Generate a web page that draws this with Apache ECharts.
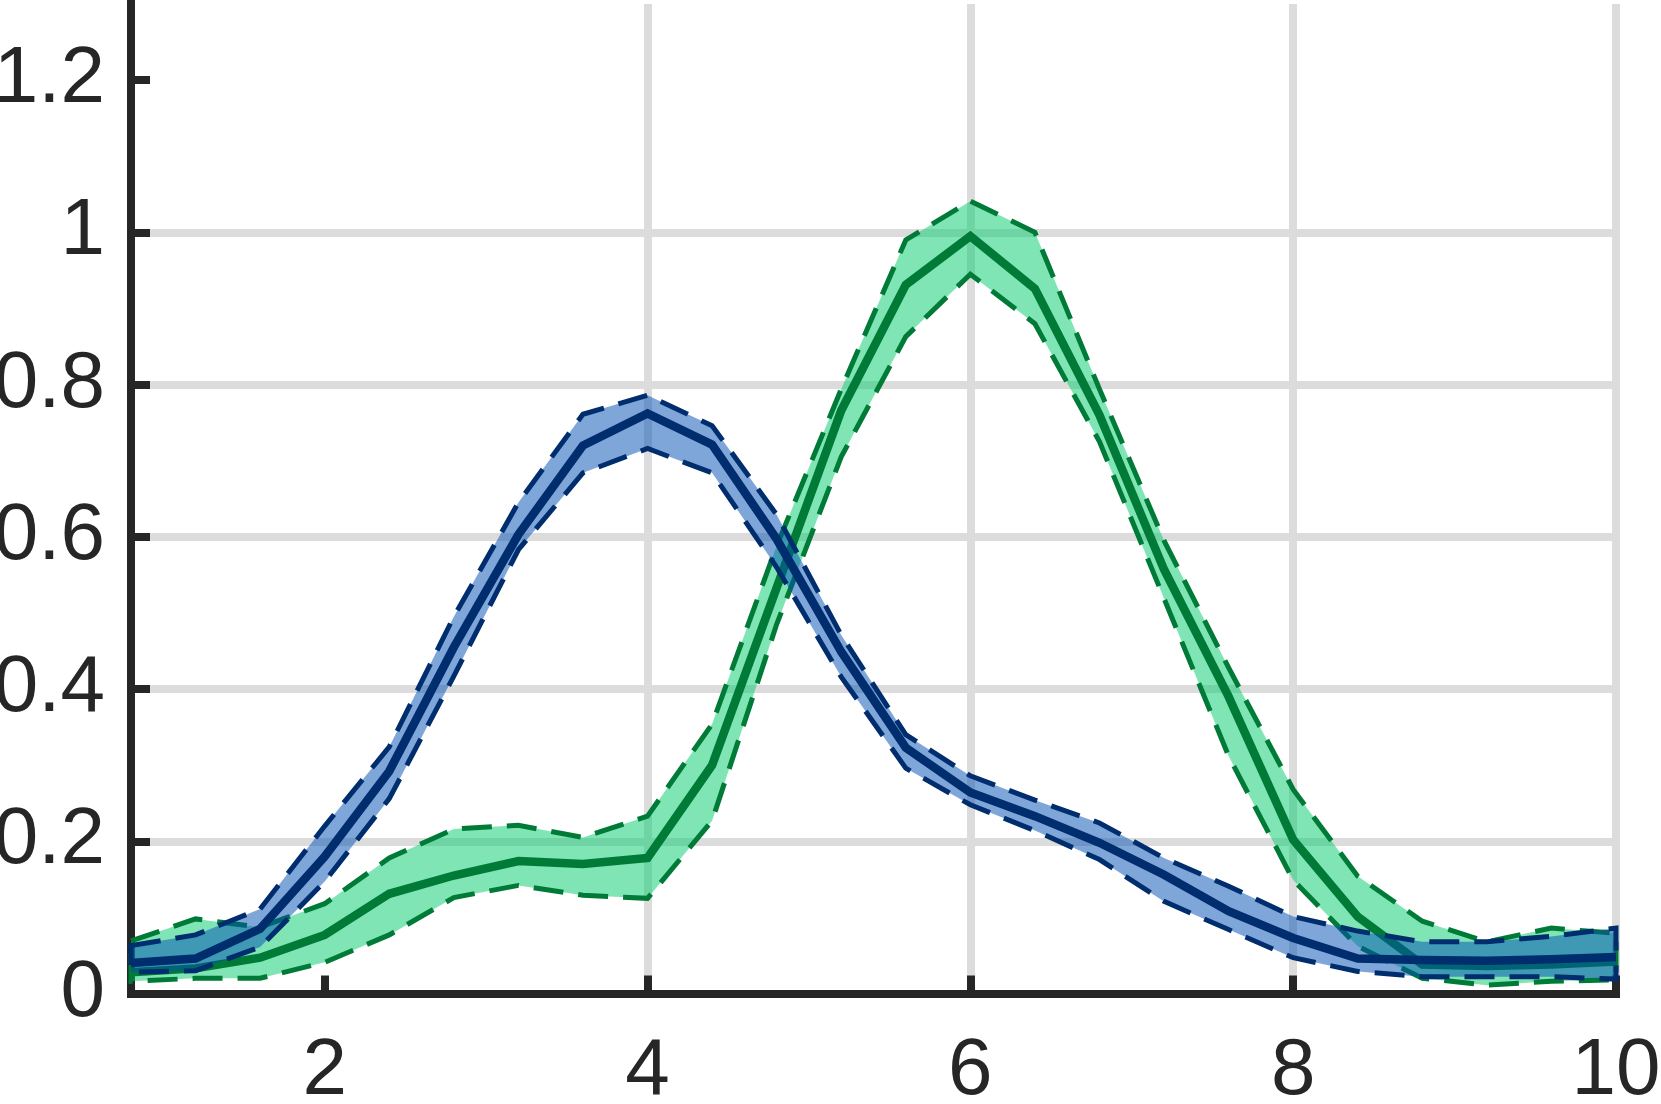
<!DOCTYPE html>
<html>
<head>
<meta charset="utf-8">
<script src="https://cdn.jsdelivr.net/npm/echarts@6/dist/echarts.min.js"></script>
<style>
  html, body { margin: 0; padding: 0; background: #ffffff; }
  #chart { width: 1661px; height: 1104px; }
</style>
</head>
<body>
<div id="chart"></div>
<script>
// ---- data ----
const xs = [0.8, 1.2, 1.6, 2.0, 2.4, 2.8, 3.2, 3.6, 4.0, 4.4, 4.8, 5.2,
            5.6, 6.0, 6.4, 6.8, 7.2, 7.6, 8.0, 8.4, 8.8, 9.2, 9.6, 10.0];

const blueMean  = [0.040, 0.046, 0.085, 0.180, 0.292, 0.455, 0.603, 0.720, 0.762, 0.721, 0.597, 0.449,
                   0.323, 0.264, 0.233, 0.198, 0.156, 0.108, 0.073, 0.046, 0.044, 0.043, 0.045, 0.048];
const blueUpper = [0.063, 0.077, 0.111, 0.220, 0.324, 0.495, 0.645, 0.761, 0.786, 0.746, 0.629, 0.471,
                   0.340, 0.286, 0.254, 0.224, 0.178, 0.141, 0.101, 0.082, 0.068, 0.068, 0.075, 0.086];
const blueLower = [0.028, 0.030, 0.061, 0.147, 0.256, 0.417, 0.583, 0.684, 0.716, 0.684, 0.560, 0.416,
                   0.296, 0.248, 0.214, 0.176, 0.121, 0.084, 0.047, 0.029, 0.022, 0.022, 0.022, 0.019];

const greenMean  = [0.028, 0.033, 0.047, 0.077, 0.131, 0.155, 0.174, 0.170, 0.178, 0.300, 0.533, 0.766,
                    0.931, 0.995, 0.926, 0.760, 0.557, 0.390, 0.202, 0.101, 0.038, 0.036, 0.038, 0.042];
const greenUpper = [0.069, 0.098, 0.087, 0.118, 0.178, 0.216, 0.221, 0.205, 0.233, 0.354, 0.588, 0.794,
                    0.990, 1.041, 1.000, 0.794, 0.595, 0.428, 0.268, 0.154, 0.095, 0.068, 0.086, 0.079];
const greenLower = [0.016, 0.020, 0.020, 0.041, 0.077, 0.126, 0.142, 0.129, 0.125, 0.227, 0.485, 0.705,
                    0.863, 0.945, 0.880, 0.725, 0.519, 0.312, 0.149, 0.062, 0.020, 0.011, 0.016, 0.018];

const xTicks = [2, 4, 6, 8, 10];
const yTicks = [0, 0.2, 0.4, 0.6, 0.8, 1.0, 1.2];

// ---- styles ----
const AXIS = '#262626';
const GRIDC = '#dcdcdc';
const FONT = 'Liberation Sans, Arial, Helvetica, sans-serif';

function band(lo, hi, fill, stroke, z) {
  return {
    type: 'custom',
    coordinateSystem: 'cartesian2d',
    silent: true,
    clip: false,
    z: z,
    data: xs.map((x, i) => [x, lo[i], hi[i]]),
    encode: { x: 0, y: [1, 2] },
    renderItem: function (params, api) {
      if (params.dataIndex !== 0) return null;
      const pts = [];
      for (let i = 0; i < xs.length; i++) pts.push(api.coord([xs[i], hi[i]]));
      for (let i = xs.length - 1; i >= 0; i--) pts.push(api.coord([xs[i], lo[i]]));
      return {
        type: 'polygon',
        shape: { points: pts },
        style: { fill: fill, stroke: stroke, lineWidth: 5, lineDash: [30, 15] }
      };
    }
  };
}

function meanLine(vals, color, z) {
  return {
    type: 'line',
    data: xs.map((x, i) => [x, vals[i]]),
    symbol: 'none',
    clip: false,
    silent: true,
    z: z,
    lineStyle: { color: color, width: 8.5, join: 'miter' }
  };
}

const chart = echarts.init(document.getElementById('chart'), null, { renderer: 'canvas' });
chart.setOption({
  animation: false,
  backgroundColor: '#ffffff',
  grid: { left: 131, right: 45, top: 4, bottom: 110.5, containLabel: false, outerBoundsMode: 'none' },
  xAxis: {
    type: 'value', min: 0.8, max: 10,
    axisLine: { show: true, onZero: false, lineStyle: { color: AXIS, width: 8, cap: 'square' } },
    axisTick: { show: true, inside: true, length: 18, customValues: xTicks, lineStyle: { color: AXIS, width: 8 } },
    axisLabel: { show: true, customValues: xTicks, margin: 38, color: AXIS, fontSize: 80, fontFamily: FONT,
                 formatter: v => String(+v.toFixed(1)) },
    splitLine: { show: true, showMinLine: false, lineStyle: { color: GRIDC, width: 8 } }
  },
  yAxis: {
    type: 'value', min: 0, max: 1.3, interval: 0.2,
    axisLine: { show: true, onZero: false, lineStyle: { color: AXIS, width: 8, cap: 'square' } },
    axisTick: { show: true, inside: true, length: 19, customValues: yTicks, lineStyle: { color: AXIS, width: 8 } },
    axisLabel: { show: true, customValues: yTicks, margin: 26, color: AXIS, fontSize: 80, fontFamily: FONT,
                 padding: [9, 0, 0, 0], formatter: v => String(+v.toFixed(1)) },
    splitLine: { show: true, showMinLine: false, showMaxLine: false, lineStyle: { color: GRIDC, width: 8 } }
  },
  series: [
    band(greenLower, greenUpper, 'rgba(0,203,107,0.5)', '#007a37', 2),
    meanLine(greenMean, '#007a37', 3),
    band(blueLower, blueUpper, 'rgba(0,77,179,0.5)', '#002d6e', 4),
    meanLine(blueMean, '#002d6e', 5)
  ]
});
</script>
</body>
</html>
